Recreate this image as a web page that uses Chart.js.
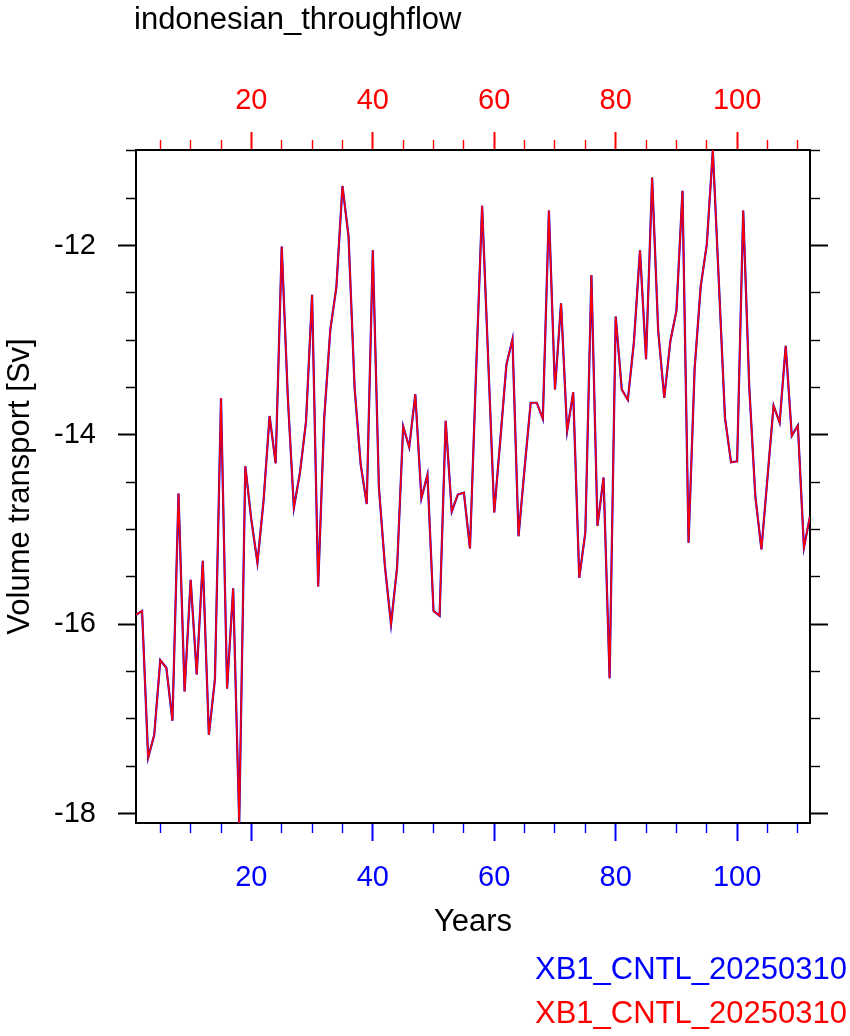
<!DOCTYPE html>
<html>
<head>
<meta charset="utf-8">
<title>indonesian_throughflow</title>
<script src="https://cdn.jsdelivr.net/npm/chart.js@4/dist/chart.umd.min.js"></script>
<style>
  html, body { margin: 0; padding: 0; background: #fff; }
  #wrap { width: 850px; height: 1036px; }
</style>
</head>
<body>
<div id="wrap"><canvas id="itfChart" width="850" height="1036"></canvas></div>
<script>
const FONT = "'Liberation Sans', Arial, Helvetica, sans-serif";

const PLOT_TITLE = "indonesian_throughflow";
const X_TITLE = "Years";
const Y_TITLE = "Volume transport [Sv]";
const CASE_NAMES = ["XB1_CNTL_20250310", "XB1_CNTL_20250310"];
const CASE_COLORS = ["#0000ff", "#ff0000"];

// model years 1..112
const YEARS = Array.from({ length: 112 }, (_, i) => i + 1);

// annual mean ITF transport (Sv)
const TRANSPORT = [
  -15.90, -15.86, -17.41, -17.17, -16.38, -16.46, -17.02, -14.62, -16.71, -15.53,
  -16.53, -15.33, -17.17, -16.58, -13.61, -16.68, -15.62, -18.10, -14.33, -14.90,
  -15.35, -14.70, -13.80, -14.30, -12.01, -13.60, -14.77, -14.40, -13.86, -12.52,
  -15.60, -13.82, -12.89, -12.44, -11.37, -11.90, -13.50, -14.31, -14.73, -12.05,
  -14.55, -15.39, -16.00, -15.40, -13.91, -14.13, -13.57, -14.67, -14.42, -15.86,
  -15.91, -13.85, -14.81, -14.63, -14.61, -15.20, -13.35, -11.58, -13.20, -14.82,
  -14.05, -13.26, -12.99, -15.07, -14.35, -13.66, -13.66, -13.83, -11.63, -13.52,
  -12.61, -13.96, -13.55, -15.51, -15.03, -12.31, -14.96, -14.45, -16.57, -12.75,
  -13.52, -13.63, -13.02, -12.05, -13.20, -11.28, -12.90, -13.61, -13.01, -12.69,
  -11.42, -15.14, -13.30, -12.43, -11.99, -10.99, -12.40, -13.82, -14.29, -14.28,
  -11.63, -13.50, -14.65, -15.21, -14.45, -13.69, -13.87, -13.06, -14.01, -13.90,
  -15.19, -14.86
];

// labelled (major) ticks
const X_LABELS = [20, 40, 60, 80, 100];
const Y_LABELS = [-18, -16, -14, -12];

const X_RANGE = [1, 112];
const Y_RANGE = [-18.1, -10.99];

/* ===== tick helpers ===== */
const isMajorX = ctx => X_LABELS.includes(ctx.tick.value);
const isMajorY = ctx => Y_LABELS.includes(ctx.tick.value);

// ticks on top/left are stroked outer -> border, on bottom/right border -> outer
const dashOuterFirst = major => ctx => (major(ctx) ? [] : [0, 8, 30, 100]);
const dashBorderFirst = major => ctx => (major(ctx) ? [] : [9, 100]);

function tickGrid(color, major, dash) {
  return {
    drawOnChartArea: false,
    drawTicks: true,
    tickLength: 18,
    tickColor: color,
    tickWidth: ctx => (major(ctx) ? 2 : 1.4),
    tickBorderDash: dash(major)
  };
}

const frame = { display: true, color: "#000", width: 2 };

/* ===== title + legend text ===== */
const nclText = {
  id: "nclText",
  afterDraw(chart) {
    const c = chart.ctx;
    c.save();
    c.font = "31px " + FONT;
    c.textAlign = "left";
    c.textBaseline = "alphabetic";
    c.fillStyle = "#000";
    c.fillText(PLOT_TITLE, 134, 29);
    CASE_NAMES.forEach((name, i) => {
      c.fillStyle = CASE_COLORS[i];
      c.fillText(name, 535, 979 + i * 44);
    });
    c.restore();
  }
};

/* ===== chart ===== */
const points = YEARS.map((yr, i) => ({ x: yr, y: TRANSPORT[i] }));

new Chart(document.getElementById("itfChart"), {
  type: "line",
  data: {
    datasets: [
      {
        label: CASE_NAMES[0],
        data: points,
        borderColor: CASE_COLORS[0],
        borderWidth: 2.2,
        pointRadius: 0,
        tension: 0,
        order: 1
      },
      {
        label: CASE_NAMES[1],
        data: points,
        borderColor: CASE_COLORS[1],
        borderWidth: 1.6,
        pointRadius: 0,
        tension: 0,
        order: 0
      }
    ]
  },
  options: {
    responsive: false,
    animation: false,
    layout: { padding: { top: 0, left: 0, right: 0, bottom: 93 } },
    plugins: {
      legend: { display: false },
      tooltip: { enabled: false }
    },
    scales: {
      x: {
        type: "linear",
        position: "bottom",
        min: X_RANGE[0],
        max: X_RANGE[1],
        afterFit: s => { s.height = 120; },
        grid: tickGrid("#0000ff", isMajorX, dashBorderFirst),
        border: frame,
        ticks: {
          stepSize: 5,
          includeBounds: false,
          autoSkip: false,
          maxRotation: 0,
          minRotation: 0,
          padding: 20,
          color: "#0000ff",
          font: { family: FONT, size: 29 },
          callback: v => (X_LABELS.includes(v) ? String(v) : "")
        },
        title: {
          display: true,
          text: X_TITLE,
          color: "#000",
          font: { family: FONT, size: 31 },
          padding: { top: 0, bottom: 2 }
        }
      },
      x2: {
        type: "linear",
        axis: "x",
        position: "top",
        min: X_RANGE[0],
        max: X_RANGE[1],
        afterFit: s => { s.height = 150; },
        grid: tickGrid("#ff0000", isMajorX, dashOuterFirst),
        border: frame,
        ticks: {
          stepSize: 5,
          includeBounds: false,
          autoSkip: false,
          maxRotation: 0,
          minRotation: 0,
          padding: 14,
          color: "#ff0000",
          font: { family: FONT, size: 29 },
          callback: v => (X_LABELS.includes(v) ? String(v) : "")
        }
      },
      y: {
        type: "linear",
        position: "left",
        min: Y_RANGE[0],
        max: Y_RANGE[1],
        afterFit: s => { s.width = 136; },
        grid: tickGrid("#000", isMajorY, dashOuterFirst),
        border: frame,
        ticks: {
          stepSize: 0.5,
          includeBounds: false,
          autoSkip: false,
          padding: 22,
          color: "#000",
          font: { family: FONT, size: 29 },
          callback: v => (Y_LABELS.includes(v) ? String(v) : "")
        },
        title: {
          display: true,
          text: Y_TITLE,
          color: "#000",
          font: { family: FONT, size: 31 },
          padding: { top: 2, bottom: 0 }
        }
      },
      y2: {
        type: "linear",
        axis: "y",
        position: "right",
        min: Y_RANGE[0],
        max: Y_RANGE[1],
        afterFit: s => { s.width = 40; },
        grid: tickGrid("#000", isMajorY, dashBorderFirst),
        border: frame,
        ticks: {
          stepSize: 0.5,
          includeBounds: false,
          autoSkip: false,
          padding: 0,
          font: { family: FONT, size: 10 },
          callback: () => ""
        }
      }
    }
  },
  plugins: [nclText]
});
</script>
</body>
</html>
